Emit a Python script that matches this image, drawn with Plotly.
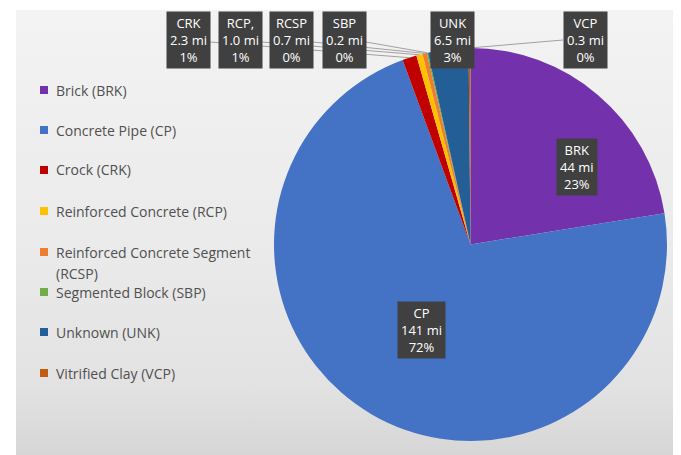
import math
import plotly.graph_objects as go

# ---- data ----
codes = ["BRK", "CP", "CRK", "RCP,", "RCSP", "SBP", "UNK", "VCP"]
legend_names = ["Brick (BRK)", "Concrete Pipe (CP)", "Crock (CRK)",
                "Reinforced Concrete (RCP)", "Reinforced Concrete Segment\n(RCSP)",
                "Segmented Block (SBP)", "Unknown (UNK)", "Vitrified Clay (VCP)"]
miles = [44, 141, 2.3, 1.0, 0.7, 0.2, 6.5, 0.3]
mile_text = ["44 mi", "141 mi", "2.3 mi", "1.0 mi", "0.7 mi", "0.2 mi", "6.5 mi", "0.3 mi"]
pct_text = ["23%", "72%", "1%", "1%", "0%", "0%", "3%", "0%"]
colors = ["#7332AC", "#4472C4", "#C00000", "#FFC000", "#ED7D31", "#70AD47", "#245E96", "#C55A11"]

# ---- layout constants (page pixels) ----
PAGE_W, PAGE_H = 681, 455
OFF = 8  # default body margin of the html page
W, H = PAGE_W - OFF, PAGE_H - OFF
CX, CY, R = 470.5, 244.5, 196.5
label_centers = [(577, 167), (421, 330), (188, 40), (240, 40), (291, 40), (344, 40), (452, 40), (585, 40)]
leader = [None, None, "right", "right", "right", "right", None, "left"]
legend_y = [90, 130, 170, 211, 252, 292, 332, 373]


def px(x):
    return (x - OFF) / W


def py(y):
    return 1 - (y - OFF) / H


fig = go.Figure()

# background panel with vertical gradient (axis units = page pixels)
fig.add_trace(go.Scatter(
    x=[16, 690, 690, 16, 16], y=[10, 10, 470, 470, 10],
    mode="lines", line=dict(width=0), fill="toself",
    fillgradient=dict(type="vertical", start=10, stop=455,
                      colorscale=[[0, "#f3f3f3"], [0.55, "#eaeaea"], [0.85, "#e2e2e2"], [1, "#d6d6d6"]]),
    hoverinfo="skip", showlegend=False))

fig.add_trace(go.Pie(
    labels=codes, values=miles, sort=False, direction="clockwise", rotation=0,
    marker=dict(colors=colors, line=dict(width=0)),
    textinfo="none", showlegend=False, hole=0,
    domain=dict(x=[px(CX - R), px(CX + R)], y=[py(CY + R), py(CY - R)]),
))

annotations = []
shapes = []

total = sum(miles)
cum = 0.0
for i, v in enumerate(miles):
    mid = (cum + v / 2) / total * 2 * math.pi
    cum += v
    ex = CX + R * math.sin(mid)
    ey = CY - R * math.cos(mid)
    bx, by = label_centers[i]
    if leader[i] == "right":
        sx, sy = bx + 22, 42
    elif leader[i] == "left":
        sx, sy = bx - 22, 40
    else:
        sx = None
    if sx is not None:
        shapes.append(dict(type="line", xref="paper", yref="paper",
                           x0=px(sx), y0=py(sy), x1=px(ex), y1=py(ey),
                           line=dict(color="#8c8c8c", width=0.8), layer="above"))
    annotations.append(dict(
        x=px(bx), y=py(by), xref="paper", yref="paper", showarrow=False,
        text=f"{codes[i]}<br>{mile_text[i]}<br>{pct_text[i]}",
        font=dict(family="Open Sans", size=13, color="white"),
        bgcolor="#404040", borderpad=3, height=50, align="center",
        xanchor="center", yanchor="middle"))

# custom legend
for i, name in enumerate(legend_names):
    yc = legend_y[i]
    shapes.append(dict(type="rect", xref="paper", yref="paper",
                       x0=px(40), x1=px(48), y0=py(yc - 4), y1=py(yc + 4),
                       fillcolor=colors[i], line=dict(width=0), layer="above"))
    for j, line in enumerate(name.split("\n")):
        annotations.append(dict(
            x=px(54), y=py(yc + j * 21), xref="paper", yref="paper", showarrow=False,
            text=line, font=dict(family="Open Sans", size=14, color="#505050"),
            xanchor="left", yanchor="middle", align="left"))

fig.update_layout(
    width=W, height=H, margin=dict(l=0, r=0, t=0, b=0),
    paper_bgcolor="white", plot_bgcolor="rgba(0,0,0,0)",
    xaxis=dict(range=[OFF, PAGE_W], visible=False, fixedrange=True),
    yaxis=dict(range=[PAGE_H, OFF], visible=False, fixedrange=True),
    annotations=annotations, shapes=shapes, showlegend=False,
)

fig.write_html("out.html")
